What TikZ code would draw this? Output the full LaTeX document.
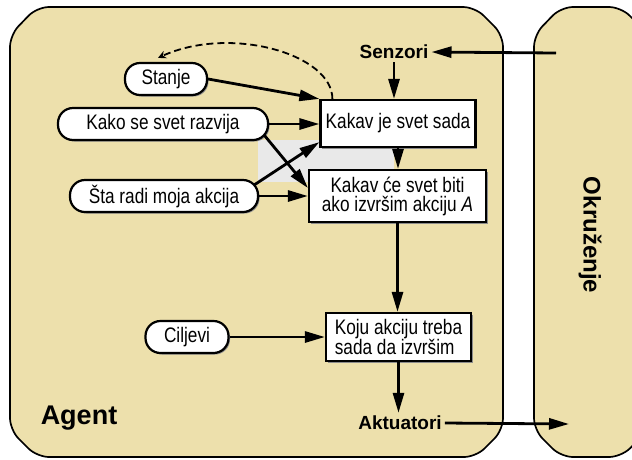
\documentclass[tikz,border=0pt]{standalone}
\usepackage{fontspec}
\setmainfont{Liberation Sans}
\newfontfamily\narrowfont{Liberation Sans}[FakeStretch=0.82]
\usetikzlibrary{arrows.meta,calc,shadows}
\definecolor{agenttan}{RGB}{237,224,172}
\definecolor{shadegray}{RGB}{233,233,233}

\begin{document}
\begin{tikzpicture}[x=1pt,y=-1pt,
  frame/.style={draw=black, line width=1.7pt, fill=agenttan, rounded corners=12pt},
  edge shade/.style={drop shadow={shadow xshift=1.5pt, shadow yshift=-1.5pt,
    fill=black!45, opacity=1}},
  pill/.style={draw=black, line width=2.2pt, fill=white, rounded corners=15pt, edge shade,
    inner sep=0pt, minimum height=32pt, font=\narrowfont\fontsize{21}{20}\selectfont},
  proc/.style={draw=black, line width=2.2pt, fill=white, inner sep=0pt, align=center,
    edge shade, font=\narrowfont\fontsize{21}{19}\selectfont},
  port/.style={font=\bfseries\fontsize{19}{19}\selectfont, inner sep=3pt},
  flow/.style={line width=2.8pt, -{Triangle[length=20pt,width=11pt]}},
  feedback/.style={line width=1.8pt, dash pattern=on 7pt off 4pt,
    -{Stealth[length=8pt,width=8pt]}},
]
\useasboundingbox (0,0) rectangle (632,459);
\clip (0,0) rectangle (632,459);
\fill[white] (0,0) rectangle (632,459);

% agent and environment panels
\path[frame] (10,35) -- (37,7) -- (475,7) -- (503,35) -- (503,430)
  -- (476,457) -- (37,457) -- (10,430) -- cycle;
\path[frame] (534,35) -- (561,7) -- (621,7) -- (649,35) -- (649,430)
  -- (621,457) -- (561,457) -- (534,430) -- cycle;

% shaded area behind the crossing inputs
\fill[shadegray] (258,140) rectangle (394,182);

% state, knowledge and goal inputs
\node[pill, minimum width=82pt]  (stanje)  at (166,79)  {Stanje};
\node[pill, minimum width=210pt] (kako)    at (163,124) {Kako se svet razvija};
\node[pill, minimum width=188pt] (sta)     at (164,196) {Šta radi moja akcija};
\node[pill, minimum width=83pt]  (ciljevi) at (187,337) {Ciljevi};

% reasoning steps
\node[proc, minimum width=155pt, minimum height=47pt] (kj) at (398,123.5)
  {Kakav je svet sada};
\node[proc, minimum width=177pt, minimum height=52pt] (kc) at (397.5,196)
  {Kakav će svet biti\\ako izvršim akciju \textit{A}};
\node[proc, minimum width=145pt, minimum height=48pt, align=left] (koju) at (398.5,337)
  {Koju akciju treba\\sada da izvršim};

% sensors, actuators and panel titles
\node[port] (senz) at (394,52)  {Senzori};
\node[port] (akt)  at (400,423) {Aktuatori};
\node[font=\bfseries\fontsize{27}{27}\selectfont] (agent) at (79,418) {Agent};
\node[font=\bfseries\fontsize{24}{24}\selectfont, rotate=-90] (okr) at (590,235) {Okruženje};

\coordinate (envin)  at (556,53);
\coordinate (envout) at (569,424);

% connectors
\draw[flow] (envin) -- (senz.east);
\draw[flow] (senz.south) -- (senz.south |- kj.north);
\draw[flow] (kj.south) -- (kj.south |- kc.north);
\draw[flow] (kc.south) -- (kc.south |- koju.north);
\draw[flow] (koju.south) -- (koju.south |- akt.north);
\draw[flow] (akt.east) -- (envout);

\draw[flow] (stanje.east) -- (kj.north west);
\draw[flow] (kako.east) -- (kako.east -| kj.west);
\draw[flow] ($(kako.east)+(-5,11)$) -- ($(kc.west)+(0,-8)$);
\draw[flow] ($(sta.east)+(-5,-11)$) -- ($(kj.south west)+(0,-6)$);
\draw[flow] (sta.east) -- (sta.east -| kc.west);
\draw[flow] (ciljevi.east) -- (ciljevi.east -| koju.west);

\draw[feedback] ($(kj.north west)+(13,0)$) .. controls +(0,-45) and (230,25)
  .. ($(stanje.north)+(-8,-4)$);
\end{tikzpicture}
\end{document}
